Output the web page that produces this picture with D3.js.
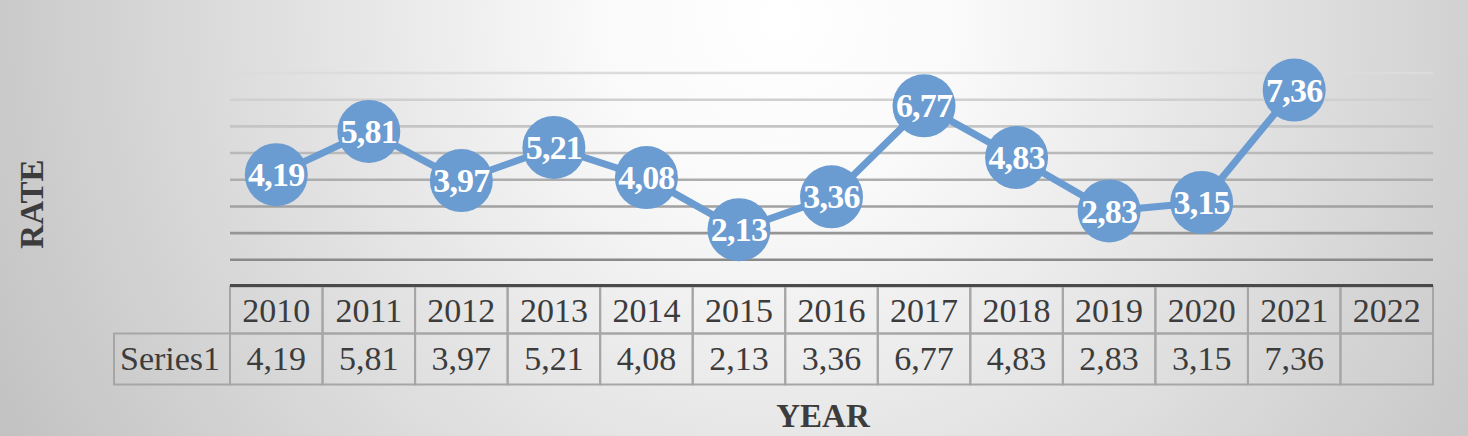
<!DOCTYPE html>
<html>
<head>
<meta charset="utf-8">
<script src="https://cdn.jsdelivr.net/npm/d3@7"></script>
<style>
  html, body { margin: 0; padding: 0; background: #fff; }
  svg { display: block; }
</style>
</head>
<body>
<svg width="1468" height="436"></svg>
<script>
// chart data
const years = ["2010", "2011", "2012", "2013", "2014", "2015", "2016", "2017", "2018", "2019", "2020", "2021", "2022"];
const rates = [4.19, 5.81, 3.97, 5.21, 4.08, 2.13, 3.36, 6.77, 4.83, 2.83, 3.15, 7.36, null];
const seriesName = "Series1";
const yTicks = [1, 2, 3, 4, 5, 6, 7, 8];

const svg = d3.select("svg"),
      width = +svg.attr("width"),
      height = +svg.attr("height"),
      margin = {top: 73, right: 35, bottom: 150, left: 230};

const fmt = v => v == null ? "" : v.toFixed(2).replace(".", ",");
const serif = "'Liberation Serif', 'Times New Roman', serif";

// background
const defs = svg.append("defs");
const bg = defs.append("radialGradient")
  .attr("id", "bg")
  .attr("gradientUnits", "userSpaceOnUse")
  .attr("cx", 780).attr("cy", 20).attr("r", 880);
bg.append("stop").attr("offset", "0").attr("stop-color", "#ffffff");
bg.append("stop").attr("offset", "0.2").attr("stop-color", "#fafafa");
bg.append("stop").attr("offset", "1").attr("stop-color", "#c2c2c2");
svg.append("rect").attr("width", width).attr("height", height).attr("fill", "url(#bg)");

const x = d3.scaleBand().domain(years).range([margin.left, width - margin.right]).padding(0);
const y = d3.scaleLinear().domain([0, 8]).range([height - margin.bottom + 0.5, margin.top]);

// gridlines get darker toward the bottom
const gridColor = d3.scaleLinear().domain([1, 8]).range(["#8a8a8a", "#dcdcdc"]);
svg.append("g")
  .selectAll("line")
  .data(yTicks)
  .join("line")
  .attr("x1", margin.left)
  .attr("x2", width - margin.right)
  .attr("y1", d => y(d))
  .attr("y2", d => y(d))
  .attr("stroke", d => gridColor(d))
  .attr("stroke-width", 2.6);

// data table under the plot
const rowH = [y(0), y(0) + 47, y(0) + 98];
const table = svg.append("g").attr("font-family", serif).attr("font-size", "34px").attr("fill", "#3c3c3c");
const cellStroke = "#a6a6a6";

table.selectAll(".yr-cell")
  .data(years)
  .join("rect")
  .attr("class", "yr-cell")
  .attr("x", d => x(d))
  .attr("y", rowH[0])
  .attr("width", x.bandwidth())
  .attr("height", rowH[1] - rowH[0])
  .attr("fill", "none")
  .attr("stroke", cellStroke)
  .attr("stroke-width", 2);

table.selectAll(".val-cell")
  .data(years)
  .join("rect")
  .attr("class", "val-cell")
  .attr("x", d => x(d))
  .attr("y", rowH[1])
  .attr("width", x.bandwidth())
  .attr("height", rowH[2] - rowH[1])
  .attr("fill", "none")
  .attr("stroke", cellStroke)
  .attr("stroke-width", 2);

table.append("rect")
  .attr("x", 114)
  .attr("y", rowH[1])
  .attr("width", margin.left - 114)
  .attr("height", rowH[2] - rowH[1])
  .attr("fill", "none")
  .attr("stroke", cellStroke)
  .attr("stroke-width", 2);

table.selectAll(".yr")
  .data(years)
  .join("text")
  .attr("class", "yr")
  .attr("x", d => x(d) + x.bandwidth() / 2)
  .attr("y", rowH[0] + 35)
  .attr("text-anchor", "middle")
  .text(d => d);

table.selectAll(".val")
  .data(years)
  .join("text")
  .attr("class", "val")
  .attr("x", d => x(d) + x.bandwidth() / 2)
  .attr("y", rowH[1] + 36)
  .attr("text-anchor", "middle")
  .text((d, i) => fmt(rates[i]));

table.append("text")
  .attr("x", 120)
  .attr("y", rowH[1] + 36)
  .text(seriesName);

// axis baseline (top of the table)
svg.append("line")
  .attr("x1", margin.left)
  .attr("x2", width - margin.right)
  .attr("y1", y(0) - 1)
  .attr("y2", y(0) - 1)
  .attr("stroke", "#4a4a4a")
  .attr("stroke-width", 3);

// line + markers
const pts = years.map((yr, i) => ({year: yr, value: rates[i]})).filter(d => d.value != null);
const cx = d => x(d.year) + x.bandwidth() / 2;

svg.append("path")
  .datum(pts)
  .attr("fill", "none")
  .attr("stroke", "#6a9bd1")
  .attr("stroke-width", 7)
  .attr("stroke-linejoin", "round")
  .attr("d", d3.line().x(cx).y(d => y(d.value)));

const marks = svg.append("g").selectAll("g")
  .data(pts)
  .join("g")
  .attr("transform", d => `translate(${cx(d)},${y(d.value)})`);

marks.append("circle")
  .attr("r", 31.5)
  .attr("fill", "#6a9bd1");

marks.append("text")
  .attr("text-anchor", "middle")
  .attr("dy", "0.34em")
  .attr("fill", "#fff")
  .attr("font-family", serif)
  .attr("font-weight", "bold")
  .attr("font-size", "34px")
  .attr("letter-spacing", "-0.8px")
  .text(d => fmt(d.value));

// axis titles
svg.append("text")
  .attr("transform", "translate(43,204) rotate(-90)")
  .attr("text-anchor", "middle")
  .attr("font-family", serif)
  .attr("font-weight", "bold")
  .attr("font-size", "33px")
  .attr("fill", "#3c3c3c")
  .text("RATE");

svg.append("text")
  .attr("x", 823)
  .attr("y", 427)
  .attr("text-anchor", "middle")
  .attr("font-family", serif)
  .attr("font-weight", "bold")
  .attr("font-size", "33px")
  .attr("fill", "#3c3c3c")
  .text("YEAR");
</script>
</body>
</html>
